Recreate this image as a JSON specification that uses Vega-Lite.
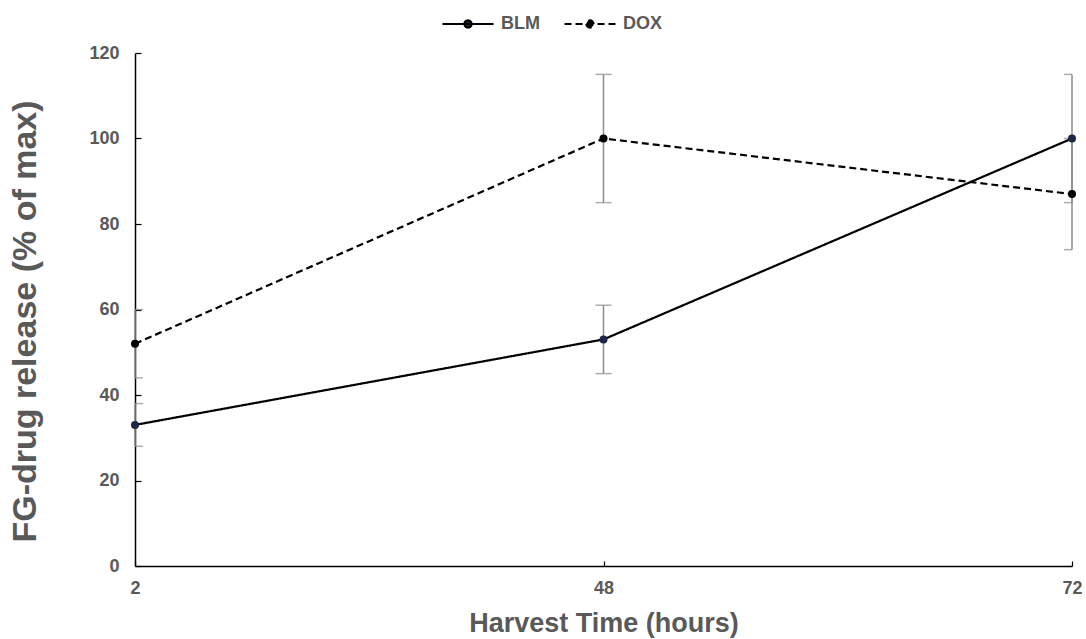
{
  "$schema": "https://vega.github.io/schema/vega-lite/v6.json",
  "width": 937,
  "height": 513,
  "autosize": "none",
  "padding": {"left": 135, "top": 53, "right": 14, "bottom": 73},
  "background": "white",
  "config": {
    "view": {"stroke": null},
    "font": "Liberation Sans",
    "axis": {
      "domainColor": "#000000",
      "domainWidth": 1.5,
      "tickColor": "#000000",
      "tickSize": -6,
      "tickWidth": 1.2,
      "grid": false,
      "labelFont": "Liberation Sans",
      "labelFontSize": 18,
      "labelFontWeight": "bold",
      "labelColor": "#595959",
      "titleFont": "Liberation Sans",
      "titleFontWeight": "bold",
      "titleColor": "#595959"
    }
  },
  "data": {
    "values": [
      {"time": "2", "series": "BLM", "value": 33, "err": 5},
      {"time": "48", "series": "BLM", "value": 53, "err": 8},
      {"time": "72", "series": "BLM", "value": 100, "err": 15},
      {"time": "2", "series": "DOX", "value": 52, "err": 8},
      {"time": "48", "series": "DOX", "value": 100, "err": 15},
      {"time": "72", "series": "DOX", "value": 87, "err": 13}
    ]
  },
  "transform": [
    {"calculate": "datum.value - datum.err", "as": "lo"},
    {"calculate": "datum.value + datum.err", "as": "hi"}
  ],
  "encoding": {
    "x": {
      "field": "time",
      "type": "ordinal",
      "sort": ["2", "48", "72"],
      "scale": {"type": "point", "padding": 0},
      "axis": {"labelAngle": 0, "title": "Harvest Time (hours)", "titleFontSize": 27, "labelPadding": 18, "titlePadding": 13, "tickSize": -5}
    }
  },
  "layer": [
    {
      "mark": {"type": "rule", "color": "#8c8c8c", "strokeWidth": 1.5},
      "encoding": {
        "y": {"field": "lo", "type": "quantitative"},
        "y2": {"field": "hi"}
      }
    },
    {
      "transform": [
        {"fold": ["lo", "hi"], "as": ["which", "cap"]},
        {"filter": "datum.time != '2'"}
      ],
      "mark": {"type": "tick", "color": "#8c8c8c", "thickness": 1.5, "size": 8, "orient": "horizontal", "xOffset": -4},
      "encoding": {
        "y": {"field": "cap", "type": "quantitative"}
      }
    },
    {
      "transform": [
        {"fold": ["lo", "hi"], "as": ["which", "cap"]},
        {"filter": "datum.time != '72'"}
      ],
      "mark": {"type": "tick", "color": "#8c8c8c", "thickness": 1.5, "size": 8, "orient": "horizontal", "xOffset": 4},
      "encoding": {
        "y": {"field": "cap", "type": "quantitative"}
      }
    },
    {
      "mark": {"type": "line", "color": "#000000", "strokeWidth": 2.2},
      "encoding": {
        "y": {
          "field": "value",
          "type": "quantitative",
          "scale": {"domain": [0, 120], "nice": false},
          "axis": {"values": [0, 20, 40, 60, 80, 100, 120], "title": "FG-drug release (% of max)", "titleFontSize": 34, "titlePadding": 46, "titleY": 268, "labelPadding": 22}
        },
        "detail": {"field": "series"},
        "strokeDash": {
          "field": "series",
          "type": "nominal",
          "scale": {"domain": ["BLM", "DOX"], "range": [[1, 0], [7, 4]]},
          "legend": {
            "orient": "none",
            "legendX": 306,
            "legendY": -56,
            "direction": "horizontal",
            "title": null,
            "symbolType": "M-1,0H1M-0.14,0A0.14,0.14 0 1,0 0.14,0A0.14,0.14 0 1,0 -0.14,0Z",
            "symbolSize": 2600,
            "symbolStrokeWidth": 2.2,
            "symbolStrokeColor": "#000000",
            "symbolFillColor": "#000000",
            "labelFont": "Liberation Sans",
            "labelFontSize": 18,
            "labelFontWeight": "bold",
            "labelColor": "#595959",
            "columnPadding": 20,
            "labelOffset": 6
          }
        }
      }
    },
    {
      "mark": {"type": "circle", "size": 64, "opacity": 1},
      "encoding": {
        "y": {"field": "value", "type": "quantitative"},
        "fill": {
          "field": "series",
          "type": "nominal",
          "scale": {"domain": ["BLM", "DOX"], "range": ["#1c2647", "#000000"]},
          "legend": null
        }
      }
    }
  ]
}
